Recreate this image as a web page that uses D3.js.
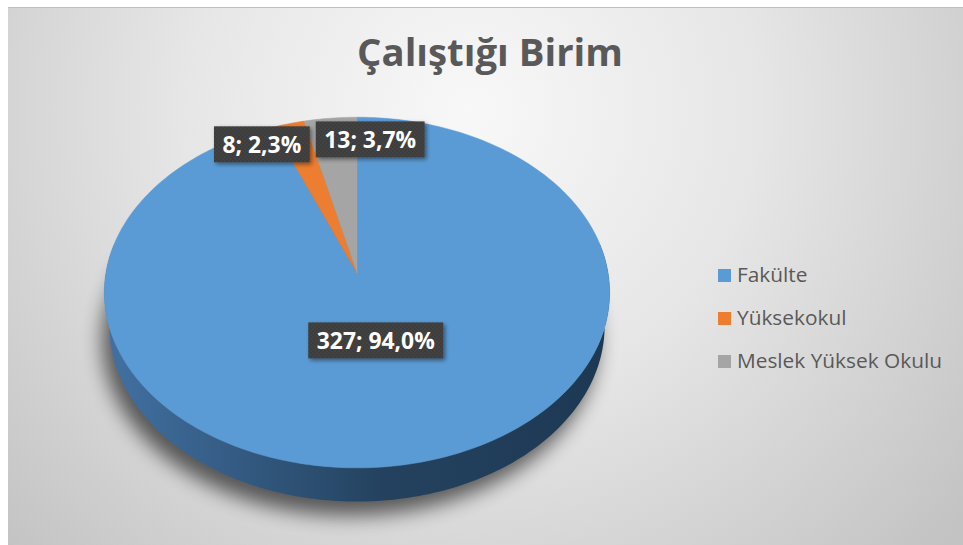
<!DOCTYPE html>
<html>
<head>
<meta charset="utf-8">
<script src="https://cdn.jsdelivr.net/npm/d3@7"></script>
<style>
  html, body { margin: 0; padding: 0; background: #fff; }
  text { font-family: "Open Sans", Lato, sans-serif; }
</style>
</head>
<body>
<div id="chart"></div>
<script>
// data
const categories = ["Fakülte", "Yüksekokul", "Meslek Yüksek Okulu"];
const counts = [327, 8, 13];
const colors = ["#5b9bd5", "#ed7d31", "#a5a5a5"];
const title = "Çalıştığı Birim";

const W = 963, H = 545;

const svg = d3.select("#chart").append("svg")
  .attr("width", W).attr("height", H);

const defs = svg.append("defs");

// shrink/grow a text so it takes the given width (font metrics differ from the original)
function fitWidth(sel, target) {
  let size = +sel.attr("font-size");
  let w = sel.node().getComputedTextLength();
  sel.attr("font-size", (size * target / w).toFixed(2));
}

// chart area background
const bg = defs.append("radialGradient").attr("id", "bg")
  .attr("gradientUnits", "userSpaceOnUse")
  .attr("cx", 470).attr("cy", 110).attr("r", 640);
bg.append("stop").attr("offset", 0).attr("stop-color", "#f8f8f8");
bg.append("stop").attr("offset", 0.45).attr("stop-color", "#e6e6e6");
bg.append("stop").attr("offset", 1).attr("stop-color", "#c3c3c3");

svg.append("rect").attr("x", 8).attr("y", 7).attr("width", W - 8).attr("height", H - 7)
  .attr("fill", "url(#bg)");
svg.append("line").attr("x1", 8).attr("x2", W).attr("y1", 7.5).attr("y2", 7.5)
  .attr("stroke", "#bdbdbd");

// title
const titleText = svg.append("text")
  .attr("x", 490).attr("y", 66)
  .attr("text-anchor", "middle")
  .attr("font-size", 30).attr("font-weight", "bold")
  .attr("fill", "#595959")
  .text(title);
fitWidth(titleText, 266);

// 3d projection of a tilted disc (radius 1, thickness t)
const cx = 357, cy = 273;
const tilt = 43.6 * Math.PI / 180;
const sa = Math.sin(tilt), ca = Math.cos(tilt);
const dist = 6.5, focal = 1632, thick = 0.19;

function proj(theta, r, h) {
  let x = r * Math.sin(theta), z = r * Math.cos(theta);
  let depth = dist + ca * z - sa * h;
  return [cx + focal * x / depth, cy - focal * (ca * h + sa * z) / depth];
}

function arcPts(a0, a1, h) {
  let n = Math.max(2, Math.ceil((a1 - a0) / (Math.PI / 180)));
  return d3.range(n + 1).map(i => proj(a0 + (a1 - a0) * i / n, 1, h));
}

const line = d3.line();
const pie = d3.pie().sort(null).value(d => d);
const arcs = pie(counts);
const total = d3.sum(counts);

// soft shadow under the pie
const shf = defs.append("filter").attr("id", "shadow")
  .attr("x", "-20%").attr("y", "-20%").attr("width", "140%").attr("height", "140%");
shf.append("feGaussianBlur").attr("stdDeviation", 10);

svg.append("path")
  .attr("d", line(arcPts(0, 2 * Math.PI, -thick)) + "Z")
  .attr("transform", "translate(-7,14)")
  .attr("fill", "#000").attr("opacity", 0.6)
  .attr("filter", "url(#shadow)");

// wall gradients
const wallCol = [["#4271a2", "#24425f", "#1d3853"], ["#b55a1e", "#8f4515", "#7a3a10"], ["#7d7d7d", "#5e5e5e", "#505050"]];
wallCol.forEach((c, i) => {
  const g = defs.append("linearGradient").attr("id", "wall" + i)
    .attr("gradientUnits", "userSpaceOnUse")
    .attr("x1", cx - 252).attr("x2", cx + 252).attr("y1", 0).attr("y2", 0);
  g.append("stop").attr("offset", 0).attr("stop-color", c[0]);
  g.append("stop").attr("offset", 0.55).attr("stop-color", c[1]);
  g.append("stop").attr("offset", 1).attr("stop-color", c[2]);
});

const pieG = svg.append("g");
const wa = 80 * Math.PI / 180, wb = 280 * Math.PI / 180;

arcs.forEach((d, i) => {
  let a0 = Math.max(d.startAngle, wa), a1 = Math.min(d.endAngle, wb);
  if (a1 <= a0) return;
  let pts = arcPts(a0, a1, 0).concat(arcPts(a0, a1, -thick).reverse());
  pieG.append("path").attr("d", line(pts) + "Z").attr("fill", `url(#wall${i})`);
});

arcs.forEach((d, i) => {
  let pts = [proj(0, 0, 0)].concat(arcPts(d.startAngle, d.endAngle, 0));
  pieG.append("path").attr("d", line(pts) + "Z")
    .attr("fill", colors[i])
    .attr("stroke", colors[i]).attr("stroke-width", 0.5);
});

// data labels
const pat = defs.append("pattern").attr("id", "dots")
  .attr("width", 4).attr("height", 4).attr("patternUnits", "userSpaceOnUse");
pat.append("rect").attr("width", 4).attr("height", 4).attr("fill", "#3c3c3c");
pat.append("circle").attr("cx", 1).attr("cy", 1).attr("r", 0.7).attr("fill", "#4d4d4d");
pat.append("circle").attr("cx", 3).attr("cy", 3).attr("r", 0.7).attr("fill", "#4d4d4d");

const lsh = defs.append("filter").attr("id", "lblShadow")
  .attr("x", "-20%").attr("y", "-30%").attr("width", "150%").attr("height", "170%");
lsh.append("feDropShadow").attr("dx", 2).attr("dy", 2).attr("stdDeviation", 2)
  .attr("flood-color", "#000").attr("flood-opacity", 0.45);

const fmtPct = v => d3.format(".1f")(v * 100).replace(".", ",") + "%";

const labels = arcs.map((d, i) => {
  let mid = (d.startAngle + d.endAngle) / 2;
  let big = d.value / total > 0.2;
  let p = proj(mid, big ? 0.38 : 0.85, 0);
  return { text: d.value + "; " + fmtPct(d.value / total), x: p[0], y: p[1], big: big };
});

const lblG = svg.append("g");
labels.forEach(l => {
  let g = lblG.append("g");
  l.r = g.append("rect").attr("fill", "url(#dots)").attr("filter", "url(#lblShadow)");
  l.t = g.append("text").attr("text-anchor", "middle").attr("dy", "0.36em")
    .attr("font-size", 20).attr("font-weight", "bold").attr("fill", "#fff").text(l.text);
});
// size the biggest label like the original, reuse that size for all
const bigLbl = labels.find(l => l.big);
fitWidth(bigLbl.t, 118);
labels.forEach(l => {
  l.t.attr("font-size", bigLbl.t.attr("font-size"));
  l.w = l.t.node().getComputedTextLength() + 17;
  l.h = 36;
});

// push the small labels apart so they do not overlap
const small = labels.filter(l => !l.big).sort((a, b) => a.x - b.x);
for (let k = 0; k < small.length - 1; k++) {
  let a = small[k], b = small[k + 1];
  let need = (a.w + b.w) / 2 + 6 - (b.x - a.x);
  if (need > 0) { a.x -= need / 2; b.x += need / 2; }
}

labels.forEach(l => {
  l.r.attr("x", l.x - l.w / 2).attr("y", l.y - l.h / 2).attr("width", l.w).attr("height", l.h);
  l.t.attr("x", l.x).attr("y", l.y);
});

// legend
const legend = svg.append("g").attr("transform", "translate(718,269)");
categories.forEach((c, i) => {
  let g = legend.append("g").attr("transform", `translate(0,${i * 43})`);
  g.append("rect").attr("width", 13).attr("height", 13).attr("fill", colors[i]);
  g.append("text").attr("x", 19).attr("y", 13)
    .attr("font-size", 18).attr("fill", "#595959").text(c);
});
const lastLegend = legend.selectAll("text").filter((d, i) => i === categories.length - 1);
fitWidth(lastLegend, 205);
legend.selectAll("text").attr("font-size", lastLegend.attr("font-size"));
</script>
</body>
</html>
